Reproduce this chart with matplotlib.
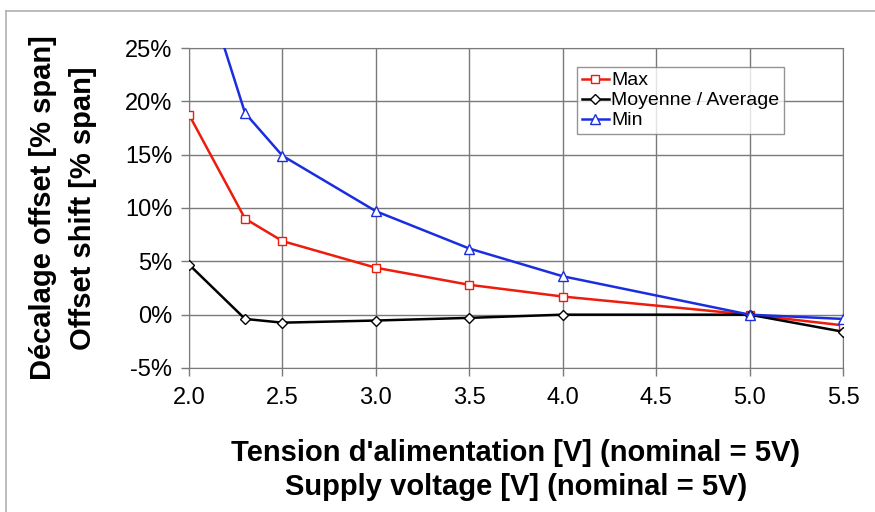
import matplotlib.pyplot as plt
from matplotlib.ticker import FuncFormatter

# supply voltage in V
voltage = [2.0, 2.3, 2.5, 3.0, 3.5, 4.0, 5.0, 5.5]
# offset shift in % of span
max_shift = [18.75, 9.0, 6.9, 4.4, 2.8, 1.7, 0.0, -1.0]
avg_shift = [4.7, -0.4, -0.75, -0.55, -0.3, 0.0, 0.0, -1.6]
min_shift = [35.5, 18.9, 14.9, 9.7, 6.2, 3.6, 0.0, -0.4]

labels = ['Max', 'Moyenne / Average', 'Min']
colors = ['#ee1c0c', 'black', '#1a2ee0']
markers = ['s', 'D', '^']
msizes = [5.5, 5, 7]

plt.rcParams['font.family'] = ['Liberation Sans', 'DejaVu Sans']

fig = plt.figure(figsize=(8.75, 5.12), dpi=100)
ax = fig.add_axes([189/875, 1 - 368/512, (843-189)/875, (368-48)/512])

for ys, lab, c, m, ms in zip([max_shift, avg_shift, min_shift], labels, colors, markers, msizes):
    ax.plot(voltage, ys, color=c, lw=1.8, marker=m, ms=ms, mfc='white', mec=c,
            mew=1.0, label=lab, zorder=3)

ax.set_xlim(2.0, 5.5)
ax.set_ylim(-5, 25)
ax.set_xticks([2.0, 2.5, 3.0, 3.5, 4.0, 4.5, 5.0, 5.5])
ax.set_yticks(range(-5, 30, 5))
ax.xaxis.set_major_formatter(FuncFormatter(lambda v, p: f'{v:.1f}'))
ax.yaxis.set_major_formatter(FuncFormatter(lambda v, p: f'{v:.0f}%'))
ax.grid(True, color='#7a7a7a', lw=1.0)
for s in ax.spines.values():
    s.set_color('#7a7a7a')
ax.tick_params(colors='#7a7a7a', labelcolor='black', labelsize=17, length=6, width=1)
ax.tick_params(axis='x', pad=8)
ax.tick_params(axis='y', pad=6)

narrow = ['Liberation Sans Narrow', 'Liberation Sans', 'DejaVu Sans']
ax.set_xlabel("Tension d'alimentation [V] (nominal = 5V)\nSupply voltage [V] (nominal = 5V)",
              family=narrow, fontweight='bold', fontsize=21, labelpad=21, linespacing=1.3)
ax.set_ylabel("Décalage offset [% span]\nOffset shift [% span]",
              family=narrow, fontweight='bold', fontsize=21, labelpad=20, linespacing=1.55)

leg = ax.legend(loc='upper left', bbox_to_anchor=((577-189)/654, 1 - (67-48)/320),
                fontsize=14, frameon=True, fancybox=False, handlelength=1.4,
                handletextpad=0.1, borderpad=0.25, labelspacing=0.12, borderaxespad=0)
leg.get_frame().set_edgecolor('#7a7a7a')
leg.get_frame().set_linewidth(1.0)

# thin border of the original picture (top and left)
fig.add_artist(plt.Line2D([6/875, 1], [1 - 11/512, 1 - 11/512], color='#b0b0b0', lw=1.2))
fig.add_artist(plt.Line2D([6/875, 6/875], [0, 1 - 11/512], color='#b0b0b0', lw=1.2))

fig.savefig('out.png', dpi=100)
